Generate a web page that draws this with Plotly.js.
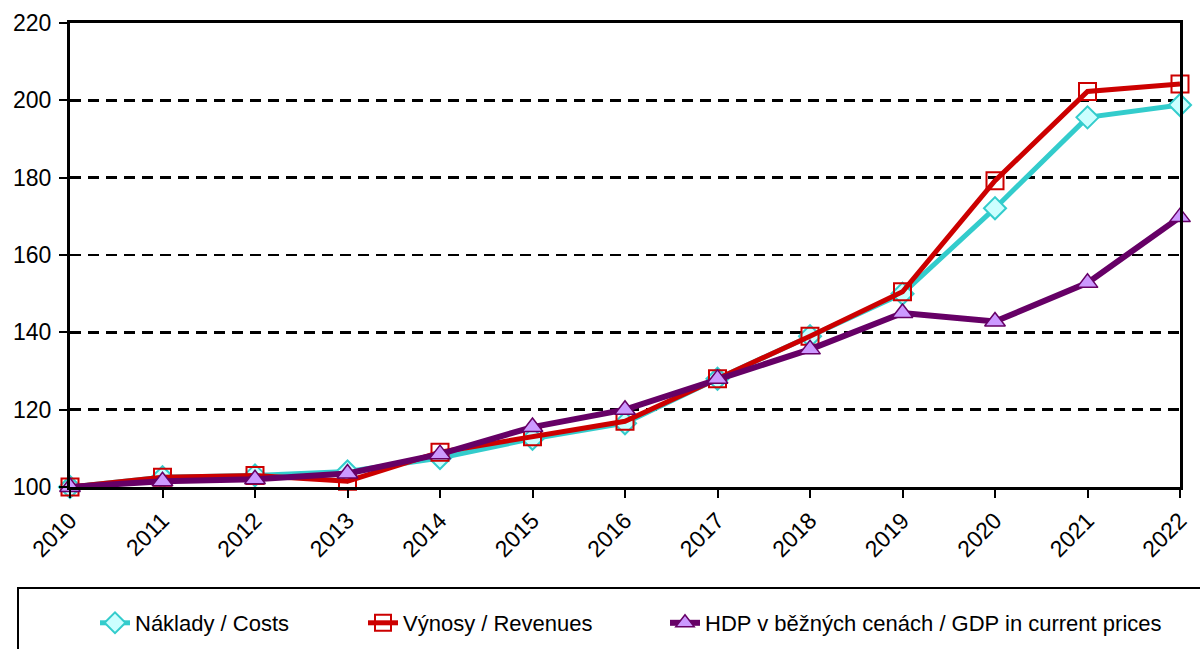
<!DOCTYPE html>
<html>
<head>
<meta charset="utf-8">
<script src="https://cdn.plot.ly/plotly-3.0.1.min.js"></script>
<style>html,body{margin:0;padding:0;background:#fff;}#chart{width:1200px;height:649px;}</style>
</head>
<body>
<div id="chart"></div>
<script>
const years = ['2010','2011','2012','2013','2014','2015','2016','2017','2018','2019','2020','2021','2022'];
const costs = [100, 102.5, 103, 104, 107.5, 112.5, 116.5, 128, 139, 150, 172.1, 195.6, 198.8];
const revenues = [100, 102.5, 103, 101.5, 109, 113, 117, 128, 139, 150.5, 179.2, 202.3, 204.2];
const gdp = [100, 101.5, 102, 103.5, 108.5, 115.5, 120, 128, 135.6, 145, 142.8, 152.8, 169.8];
const names = ['Náklady / Costs', 'Výnosy / Revenues', 'HDP v běžných cenách / GDP in current prices'];
const yTicks = [100, 120, 140, 160, 180, 200, 220];

const FONT = '"Liberation Sans", Arial, sans-serif';

const traces = [
  {x: years, y: costs, name: names[0], legend: 'legend', type: 'scatter', mode: 'lines+markers', cliponaxis: false,
   line: {color: '#33cccc', width: 5},
   marker: {symbol: 'diamond', size: 17, color: '#ccffff', line: {color: '#33cccc', width: 2}}},
  {x: years, y: revenues, name: names[1], legend: 'legend2', type: 'scatter', mode: 'lines+markers', cliponaxis: false,
   line: {color: '#cc0000', width: 5},
   marker: {symbol: 'square-open', size: 17, color: '#cc0000', line: {color: '#cc0000', width: 2}}},
  {x: years, y: gdp, name: names[2], legend: 'legend3', type: 'scatter', mode: 'lines+markers', cliponaxis: false,
   line: {color: '#660066', width: 6},
   marker: {symbol: 'triangle-up', size: 18, color: '#cc99ff', line: {color: '#660066', width: 1.5}}}
];

function leg(xpx) {
  return {orientation: 'h', x: (xpx - 70) / 1110, xanchor: 'left', y: (487 - 623) / 464, yanchor: 'middle',
          font: {size: 22, family: FONT, color: '#000'}, bgcolor: 'rgba(0,0,0,0)', borderwidth: 0};
}

const layout = {
  width: 1200, height: 649,
  margin: {l: 70, r: 20, t: 23, b: 162, autoexpand: false},
  paper_bgcolor: '#fff', plot_bgcolor: '#fff',
  font: {family: FONT, size: 23, color: '#000'},
  showlegend: true,
  legend: leg(95),
  legend2: leg(363),
  legend3: leg(665),
  xaxis: {type: 'category', range: [0, 12], showline: true, linecolor: '#000', linewidth: 3, mirror: true,
          ticks: 'outside', ticklen: 8, tickwidth: 2, tickcolor: '#000', tickangle: -45,
          showgrid: false, zeroline: false, fixedrange: true, automargin: false, tickfont: {size: 23, family: FONT}},
  yaxis: {range: [100, 220], tickvals: yTicks, ticktext: yTicks.map(String), showline: true, linecolor: '#000', linewidth: 3, mirror: true,
          ticks: 'outside', ticklen: 8, tickwidth: 2, tickcolor: '#000', ticklabelstandoff: 3,
          showgrid: true, gridcolor: '#000', gridwidth: 2.5, griddash: '11px,7px', zeroline: false, fixedrange: true,
          automargin: false, tickfont: {size: 23, family: FONT}},
  shapes: [
    {type: 'rect', xref: 'paper', yref: 'paper', x0: (18 - 70) / 1110, x1: 1.03, y0: (487 - 588) / 464, y1: -0.36,
     line: {color: '#000', width: 2}, fillcolor: 'rgba(0,0,0,0)'}
  ]
};

Plotly.newPlot('chart', traces, layout, {displayModeBar: false, staticPlot: true});
</script>
</body>
</html>
